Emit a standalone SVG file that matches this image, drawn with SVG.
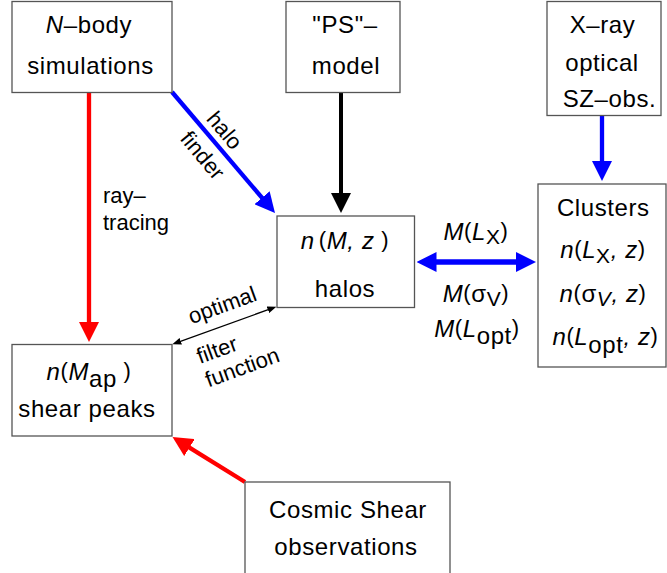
<svg xmlns="http://www.w3.org/2000/svg" width="667" height="573" viewBox="0 0 667 573">
<defs>
<style>
text { font-family: "Liberation Sans", Arial, Helvetica, sans-serif; fill:#000; }
.t { font-size:24px; letter-spacing:0.6px; text-anchor:middle; }
.s { font-size:22px; }
.i { font-style:italic; }
.p { font-size:22px; }
.sub { font-size:21px; }
.box { fill:#fff; stroke:#555; stroke-width:1.3; }
.red { stroke:#f00; stroke-width:4.3; fill:none; }
.blue { stroke:#00f; stroke-width:4.3; fill:none; }
.blk { stroke:#000; stroke-width:4; fill:none; }
.thin { stroke:#000; stroke-width:1.3; fill:none; }
</style>
<marker id="hR" markerUnits="userSpaceOnUse" markerWidth="20" markerHeight="20" refX="10" refY="10" orient="auto"><path d="M0,0 L20,10 L0,20 z" fill="#f00"/></marker>
<marker id="hB" markerUnits="userSpaceOnUse" markerWidth="20" markerHeight="20" refX="10" refY="10" orient="auto-start-reverse"><path d="M0,0 L20,10 L0,20 z" fill="#00f"/></marker>
<marker id="hK" markerUnits="userSpaceOnUse" markerWidth="20" markerHeight="20" refX="10" refY="10" orient="auto"><path d="M0,0 L20,10 L0,20 z" fill="#000"/></marker>
<marker id="hk" markerUnits="userSpaceOnUse" markerWidth="9" markerHeight="7" refX="4" refY="3.5" orient="auto-start-reverse"><path d="M0,0 L9,3.5 L0,7 z" fill="#000"/></marker>
</defs>

<g id="connectors">
<line class="red" x1="89" y1="92" x2="89" y2="332" marker-end="url(#hR)"/>
<line class="blue" x1="172" y1="92" x2="268.5" y2="205.4" marker-end="url(#hB)"/>
<line class="blk" x1="341" y1="92" x2="341" y2="203" marker-end="url(#hK)"/>
<line class="blue" x1="602" y1="116" x2="602" y2="171" marker-end="url(#hB)"/>
<line class="blue" style="stroke-width:5.5" x1="426.5" y1="262" x2="526" y2="262" marker-start="url(#hB)" marker-end="url(#hB)"/>
<line class="thin" x1="177" y1="342.6" x2="271.7" y2="308.4" marker-start="url(#hk)" marker-end="url(#hk)"/>
<line class="red" x1="245" y1="482" x2="181" y2="442.3" marker-end="url(#hR)"/>
<text class="s" x="103" y="203">ray–</text>
<text class="s" x="103" y="230">tracing</text>
<text class="s" text-anchor="middle" transform="translate(225,130) rotate(50)" y="8">halo</text>
<text class="s" text-anchor="middle" transform="translate(203,155) rotate(50)" y="8">finder</text>
<text class="s" text-anchor="middle" transform="translate(223,307) rotate(-20)" y="5.5">optimal</text>
<text class="s" transform="translate(200,364) rotate(-20)"><tspan x="0" y="0">filter</tspan><tspan x="0" y="25">function</tspan></text>
<text class="t" x="476" y="240"><tspan class="i">M</tspan><tspan class="p" dy="-2">(</tspan><tspan class="i" dy="2">L</tspan><tspan class="sub" dy="4">X</tspan><tspan class="p" dy="-6">)</tspan></text>
<text class="t" x="476" y="301.7"><tspan class="i">M</tspan><tspan class="p" dy="-2">(</tspan><tspan dy="2">σ</tspan><tspan class="sub" dy="4">V</tspan><tspan class="p" dy="-6">)</tspan></text>
<text class="t" x="477" y="336.7"><tspan class="i">M</tspan><tspan class="p" dy="-2">(</tspan><tspan class="i" dy="2">L</tspan><tspan dy="7">opt</tspan><tspan class="p" dy="-9">)</tspan></text>
</g>

<g id="nbody">
<rect class="box" x="12" y="1.5" width="160" height="91"/>
<text class="t" x="89" y="33.3"><tspan class="i">N</tspan>–body</text>
<text class="t" x="90.5" y="74">simulations</text>
</g>

<g id="ps">
<rect class="box" x="286" y="1.5" width="114" height="91"/>
<text class="t" x="345" y="33.3">"PS"–</text>
<text class="t" x="346" y="74">model</text>
</g>

<g id="xray">
<rect class="box" x="547" y="1.5" width="114" height="114"/>
<text class="t" x="602.5" y="33.3">X–ray</text>
<text class="t" x="602" y="70.7">optical</text>
<text class="t" x="609.5" y="107.3">SZ–obs.</text>
</g>

<g id="clusters">
<rect class="box" x="538" y="184" width="128" height="183"/>
<text class="t" x="603.3" y="216">Clusters</text>
<text class="t" x="603" y="257.7"><tspan class="i">n</tspan><tspan class="p" dy="-2">(</tspan><tspan class="i" dy="2">L</tspan><tspan class="sub" dy="5">X</tspan><tspan class="i" dy="-5">, z</tspan><tspan class="p" dy="-2">)</tspan></text>
<text class="t" x="603" y="301.7"><tspan class="i">n</tspan><tspan class="p" dy="-2">(</tspan><tspan dy="2">σ</tspan><tspan class="sub i" dy="4">V</tspan><tspan class="i" dy="-4">, z</tspan><tspan class="p" dy="-2">)</tspan></text>
<text class="t" x="605.5" y="345"><tspan class="i">n</tspan><tspan class="p" dy="-2">(</tspan><tspan class="i" dy="2">L</tspan><tspan dy="8">opt</tspan><tspan class="i" dy="-8">, z</tspan><tspan class="p" dy="-2">)</tspan></text>
</g>

<g id="halos">
<rect class="box" x="277" y="216" width="137.5" height="91.5"/>
<text class="t" x="345" y="248.7"><tspan class="i">n</tspan><tspan class="p" dx="4" dy="-2">(</tspan><tspan class="i" dy="2">M, z</tspan><tspan class="p" dy="-2"> )</tspan></text>
<text class="t" x="345" y="297">halos</text>
</g>

<g id="shear">
<rect class="box" x="12" y="344.5" width="160" height="91.5"/>
<text class="t" x="89" y="380"><tspan class="i">n</tspan><tspan class="p" dy="-2">(</tspan><tspan class="i" dy="2">M</tspan><tspan dy="7">ap</tspan><tspan class="p" dy="-9"> )</tspan></text>
<text class="t" x="87" y="416.7">shear peaks</text>
</g>

<g id="cosmic">
<rect class="box" x="245" y="482" width="205" height="100"/>
<text class="t" x="348" y="518.3">Cosmic Shear</text>
<text class="t" x="346" y="555">observations</text>
</g>
</svg>
